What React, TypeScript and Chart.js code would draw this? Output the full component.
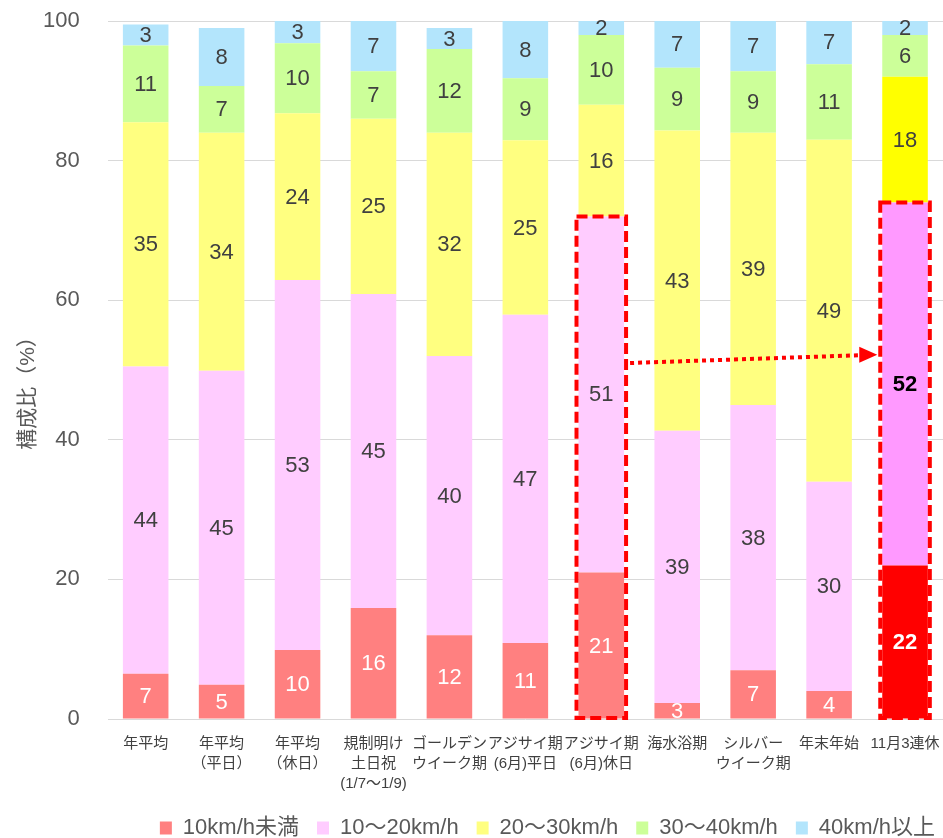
import React, { useEffect, useRef } from "react";
import { Chart, registerables } from "chart.js";
Chart.register(...registerables);

const categories: string[][] = [
  ["年平均"],
  ["年平均", "（平日）"],
  ["年平均", "（休日）"],
  ["規制明け", "土日祝", "(1/7～1/9)"],
  ["ゴールデン", "ウイーク期"],
  ["アジサイ期", "(6月)平日"],
  ["アジサイ期", "(6月)休日"],
  ["海水浴期"],
  ["シルバー", "ウイーク期"],
  ["年末年始"],
  ["11月3連休"],
];

const seriesNames = ["10km/h未満", "10～20km/h", "20～30km/h", "30～40km/h", "40km/h以上"];

const under10 = [6.5, 4.9, 9.9, 15.9, 12, 10.9, 21, 2.3, 7, 4, 22];
const s10to20 = [44, 45, 53, 45, 40, 47, 51, 39, 38, 30, 52];
const s20to30 = [35, 34.1, 23.9, 25.1, 32, 25, 16, 43, 39, 49, 18];
const s30to40 = [11, 6.7, 10, 6.8, 12, 8.9, 10, 9, 8.8, 10.8, 6];
const over40 = [3, 8.3, 3.2, 7.2, 3, 8.2, 2, 6.7, 7.2, 6.5, 2];

const labelsUnder10 = ["7", "5", "10", "16", "12", "11", "21", "3", "7", "4", "22"];
const labels10to20 = ["44", "45", "53", "45", "40", "47", "51", "39", "38", "30", "52"];
const labels20to30 = ["35", "34", "24", "25", "32", "25", "16", "43", "39", "49", "18"];
const labels30to40 = ["11", "7", "10", "7", "12", "9", "10", "9", "9", "11", "6"];
const labelsOver40 = ["3", "8", "3", "7", "3", "8", "2", "7", "7", "7", "2"];

const yTicks = [0, 20, 40, 60, 80, 100];
const yTitle = "構成比（%）";

const highlightBars = [6, 10];
const arrowFromValue = 51;
const arrowToValue = 52.2;

const lightColors = ["#FF8080", "#FFCCFF", "#FFFF80", "#CCFF99", "#B3E5FC"];
const strongColors = ["#FF0000", "#FF99FF", "#FFFF00", "#CCFF99", "#B3E5FC"];

const FONT = "'Liberation Sans', 'Noto Sans CJK JP', Arial, sans-serif";

export default function App() {
  const ref = useRef<HTMLCanvasElement>(null);
  useEffect(() => {
    if (!ref.current) return;
    const values = [under10, s10to20, s20to30, s30to40, over40];
    const labelSets = [labelsUnder10, labels10to20, labels20to30, labels30to40, labelsOver40];
    const datasets = values.map((vals, si) => ({
      label: seriesNames[si],
      data: vals,
      backgroundColor: vals.map((_, i) => (i === 10 ? strongColors[si] : lightColors[si])),
      borderWidth: 0,
      barPercentage: 0.6,
      categoryPercentage: 1,
    }));

    const labelPlugin = {
      id: "segLabels",
      afterDatasetsDraw(chart: any) {
        const ctx = chart.ctx;
        ctx.save();
        ctx.textAlign = "center";
        ctx.textBaseline = "middle";
        chart.data.datasets.forEach((ds: any, si: number) => {
          const meta = chart.getDatasetMeta(si);
          meta.data.forEach((el: any, i: number) => {
            const bold = i === 10 && (si === 0 || si === 1);
            ctx.font = `${bold ? "bold " : ""}22px ${FONT}`;
            ctx.fillStyle = si === 0 ? "#FFFFFF" : bold ? "#000000" : "#404040";
            const y = (el.y + el.base) / 2;
            ctx.fillText(labelSets[si][i], el.x, y + 1);
          });
        });
        ctx.restore();
      },
    };

    const legendShift = {
      id: "legendShift",
      afterLayout(chart: any) {
        if (chart.legend) {
          chart.legend.left += 10;
          chart.legend.right += 10;
        }
      },
    };

    const boxPlugin = {
      id: "boxes",
      afterDraw(chart: any) {
        const ctx = chart.ctx;
        const yScale = chart.scales.y;
        const meta0 = chart.getDatasetMeta(0);
        const meta1 = chart.getDatasetMeta(1);
        ctx.save();
        ctx.fillStyle = "#595959";
        ctx.font = `21px ${FONT}`;
        ctx.textAlign = "center";
        ctx.textBaseline = "middle";
        ctx.translate(28, (chart.chartArea.top + chart.chartArea.bottom) / 2 + 18);
        ctx.rotate(-Math.PI / 2);
        ctx.fillText(yTitle, 0, 0);
        ctx.setTransform(1, 0, 0, 1, 0, 0);

        ctx.strokeStyle = "#FF0000";
        ctx.lineWidth = 4;
        ctx.setLineDash([11, 5]);
        const boxes: any[] = [];
        highlightBars.forEach((i) => {
          const el = meta0.data[i];
          const top = meta1.data[i].y;
          const half = el.width / 2 + 2;
          const bottom = yScale.getPixelForValue(0) - 1;
          ctx.strokeRect(el.x - half, top, half * 2, bottom - top);
          boxes.push({ left: el.x - half, right: el.x + half });
        });
        const y1 = yScale.getPixelForValue(arrowFromValue);
        const y2 = yScale.getPixelForValue(arrowToValue);
        const x1 = boxes[0].right + 4;
        const tip = boxes[1].left - 3;
        const headLen = 18;
        ctx.setLineDash([4, 4]);
        ctx.lineWidth = 4;
        ctx.beginPath();
        ctx.moveTo(x1, y1);
        ctx.lineTo(tip - headLen, y2 + (y1 - y2) * (headLen / (tip - x1)));
        ctx.stroke();
        ctx.setLineDash([]);
        ctx.fillStyle = "#FF0000";
        ctx.beginPath();
        ctx.moveTo(tip, y2);
        ctx.lineTo(tip - headLen, y2 - 8);
        ctx.lineTo(tip - headLen, y2 + 8);
        ctx.closePath();
        ctx.fill();
        ctx.restore();
      },
    };

    const chart = new Chart(ref.current, {
      type: "bar",
      data: { labels: categories, datasets },
      options: {
        animation: false,
        responsive: false,
        maintainAspectRatio: false,
        layout: { padding: { top: 21, right: 0, left: 39, bottom: -11 } },
        scales: {
          x: {
            stacked: true,
            grid: { display: false },
            border: { display: false },
            afterFit: (scale: any) => {
              scale.height = 80;
              scale.paddingLeft = 0;
              scale.paddingRight = 0;
            },
            ticks: {
              color: "#404040",
              font: { family: FONT, size: 15, lineHeight: 1.33 },
              maxRotation: 0,
              autoSkip: false,
              padding: 7,
            },
          },
          y: {
            stacked: true,
            min: 0,
            max: 100,
            afterBuildTicks: (axis: any) => {
              axis.ticks = yTicks.map((v) => ({ value: v }));
            },
            grid: {
              color: "#D9D9D9",
              lineWidth: 1,
              drawTicks: true,
              tickLength: 24,
              tickColor: "rgba(0,0,0,0)",
            },
            border: { display: false },
            ticks: {
              color: "#595959",
              font: { family: FONT, size: 22 },
              padding: 4,
            },
          },
        },
        plugins: {
          legend: {
            position: "bottom",
            align: "end",
            labels: {
              color: "#595959",
              font: { family: FONT, size: 22 },
              boxWidth: 12,
              boxHeight: 13,
              padding: 18,
            },
          },
          tooltip: { enabled: false },
        },
      },
      plugins: [labelPlugin, boxPlugin, legendShift],
    });
    return () => chart.destroy();
  }, []);
  return (
    <div style={{ position: "fixed", left: 0, top: 0, width: 943, height: 838, background: "#fff" }}>
      <canvas ref={ref} width={943} height={838} style={{ width: 943, height: 838 }} />
    </div>
  );
}
